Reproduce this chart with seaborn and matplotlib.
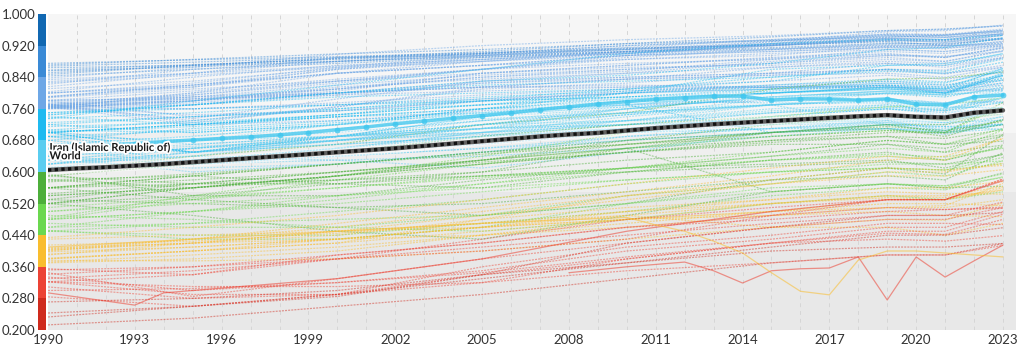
import numpy as np
import pandas as pd
import matplotlib
matplotlib.use("Agg")
import matplotlib.pyplot as plt
import matplotlib.patheffects as pe
import seaborn as sns

sns.set_theme(style="white")
plt.rcParams['font.family'] = ['Lato', 'DejaVu Sans']

# ---------------------------------------------------------------- data
KEY_YEARS = [1990, 1995, 2000, 2005, 2010, 2015, 2019, 2021, 2023]

# HDI in thousandths at KEY_YEARS, one row per country
very_high_start = [
    [875, 884, 892, 902, 914, 921, 930, 921, 938],
    [871, 885, 899, 910, 925, 933, 941, 946, 958],
    [864, 870, 880, 895, 905, 920, 932, 929, 939],
    [851, 870, 888, 905, 925, 942, 958, 962, 970],
    [847, 870, 887, 900, 920, 932, 945, 941, 955],
    [843, 860, 875, 890, 903, 912, 922, 920, 925],
    [838, 865, 898, 920, 935, 945, 958, 961, 970],
    [834, 850, 868, 885, 905, 920, 933, 934, 938],
    [829, 850, 880, 900, 920, 935, 948, 945, 959],
    [822, 860, 880, 895, 910, 922, 939, 935, 951],
    [816, 850, 890, 895, 910, 930, 945, 946, 959],
    [811, 830, 862, 890, 900, 930, 955, 958, 972],
    [803, 840, 870, 885, 900, 920, 935, 928, 946],
    [800, 815, 860, 880, 900, 920, 938, 940, 948],
    [799, 825, 865, 895, 915, 935, 948, 948, 962],
    [791, 820, 850, 870, 885, 900, 910, 905, 920],
    [790, 820, 860, 885, 900, 910, 918, 920, 922],
    [800, 820, 850, 870, 895, 910, 920, 918, 930],
    [790, 815, 850, 870, 895, 905, 915, 915, 919],
    [788, 810, 830, 860, 895, 925, 950, 948, 955],
    [781, 805, 835, 860, 875, 885, 898, 890, 915],
    [766, 795, 830, 850, 870, 890, 905, 900, 918],
    [770, 800, 850, 880, 905, 925, 943, 942, 949],
    [768, 780, 805, 850, 865, 870, 885, 880, 908],
    [775, 795, 825, 860, 885, 895, 918, 915, 931],
    [770, 790, 810, 850, 870, 888, 900, 890, 915],
    [760, 785, 810, 840, 855, 885, 910, 905, 924],
    [765, 790, 820, 845, 860, 875, 895, 890, 913],
    [765, 735, 785, 830, 850, 880, 895, 893, 905],
    [770, 725, 765, 810, 825, 850, 875, 865, 889],
    [772, 730, 765, 815, 835, 865, 880, 875, 895],
    [780, 740, 755, 780, 800, 820, 830, 820, 832],
    [765, 745, 755, 780, 805, 815, 825, 815, 824],
    [765, 775, 800, 830, 840, 850, 858, 848, 870],
    [763, 780, 810, 840, 860, 875, 890, 880, 906],
    [770, 780, 800, 825, 840, 850, 860, 850, 865],
    [780, 790, 800, 815, 820, 815, 815, 805, 811],
    [782, 785, 795, 805, 815, 815, 818, 810, 820],
    [773, 785, 800, 815, 835, 845, 850, 840, 865],
    [761, 770, 800, 815, 815, 830, 845, 835, 852],
    [767, 760, 775, 795, 810, 815, 820, 800, 845],
    [765, 720, 730, 755, 770, 780, 785, 775, 779],
    [768, 770, 795, 825, 835, 845, 860, 858, 889],
    [761, 780, 815, 835, 850, 865, 875, 870, 890],
    [762, 800, 830, 860, 890, 910, 925, 925, 937],
    [760, 760, 770, 785, 800, 810, 815, 805, 807],
    [858, 872, 885, 898, 910, 922, 935, 932, 946],
    [856, 866, 880, 892, 905, 915, 926, 924, 936],
    [868, 878, 890, 900, 912, 925, 938, 935, 950],
    [826, 845, 865, 880, 895, 905, 915, 912, 928],
]

high_start = [
    [744, 770, 800, 830, 845, 875, 910, 915, 940],
    [736, 780, 820, 860, 900, 925, 935, 935, 946],
    [750, 770, 800, 820, 830, 840, 860, 855, 886],
    [745, 770, 790, 800, 810, 830, 870, 875, 899],
    [700, 720, 745, 770, 800, 860, 870, 870, 900],
    [706, 730, 760, 785, 810, 840, 855, 850, 878],
    [700, 715, 740, 750, 780, 800, 815, 810, 862],
    [740, 720, 745, 780, 800, 815, 830, 825, 862],
    [720, 700, 720, 760, 785, 800, 810, 805, 833],
    [706, 700, 720, 760, 800, 810, 825, 820, 845],
    [700, 650, 680, 720, 760, 790, 805, 800, 844],
    [702, 670, 690, 740, 770, 800, 815, 810, 837],
    [646, 680, 720, 740, 760, 790, 805, 800, 819],
    [670, 690, 720, 750, 770, 800, 815, 800, 839],
    [668, 690, 720, 750, 770, 800, 815, 808, 833],
    [630, 660, 690, 730, 760, 790, 805, 795, 806],
    [600, 640, 670, 720, 750, 810, 835, 838, 853],
    [690, 650, 690, 740, 780, 775, 775, 765, 762],
    [660, 650, 680, 710, 745, 785, 800, 795, 810],
    [680, 650, 690, 720, 745, 770, 785, 775, 804],
    [690, 680, 700, 730, 750, 770, 780, 775, 787],
    [630, 660, 690, 720, 750, 770, 785, 775, 776],
    [620, 650, 680, 710, 730, 770, 800, 800, 798],
    [660, 680, 710, 735, 750, 770, 780, 760, 789],
    [610, 650, 690, 710, 730, 755, 765, 758, 786],
    [603, 630, 660, 690, 720, 750, 765, 755, 788],
    [620, 640, 680, 700, 720, 750, 770, 760, 794],
    [640, 660, 680, 700, 730, 760, 770, 755, 777],
    [650, 665, 680, 710, 760, 770, 720, 700, 709],
    [700, 720, 740, 760, 780, 790, 780, 735, 752],
    [620, 660, 690, 720, 730, 730, 740, 730, 754],
    [605, 630, 660, 700, 720, 735, 745, 735, 746],
    [680, 710, 730, 750, 770, 700, 720, 715, 721],
    [650, 670, 690, 710, 720, 730, 735, 725, 731],
    [602, 630, 650, 670, 700, 720, 735, 725, 756],
    [606, 630, 660, 690, 710, 740, 760, 755, 776],
    [660, 680, 690, 710, 720, 725, 730, 705, 720],
    [660, 620, 660, 700, 740, 770, 785, 770, 811],
    [670, 630, 650, 690, 730, 750, 760, 745, 789],
    [700, 650, 670, 690, 710, 740, 760, 750, 763],
    [608, 620, 640, 660, 680, 700, 710, 700, 720],
    [640, 660, 680, 695, 700, 710, 720, 715, 708],
    [670, 680, 690, 700, 710, 720, 725, 710, 722],
    [620, 650, 670, 690, 700, 710, 710, 695, 721],
    [630, 610, 620, 650, 690, 710, 725, 720, 740],
    [640, 620, 640, 660, 690, 710, 730, 725, 764],
    [640, 600, 620, 650, 680, 700, 710, 700, 720],
    [720, 740, 760, 780, 790, 810, 820, 815, 858],
    [700, 720, 740, 760, 770, 790, 800, 795, 848],
    [750, 760, 770, 780, 790, 800, 810, 800, 851],
    [612, 620, 630, 640, 660, 690, 710, 705, 733],
    [630, 640, 630, 610, 650, 700, 720, 705, 741],
    [735, 750, 770, 790, 805, 820, 835, 828, 855],
    [725, 740, 755, 770, 790, 805, 820, 812, 843],
    [715, 725, 745, 770, 785, 800, 812, 800, 826],
    [690, 705, 725, 745, 765, 785, 798, 790, 815],
]

medium_start = [
    [484, 540, 590, 640, 700, 740, 765, 770, 788],
    [530, 570, 600, 630, 670, 700, 715, 705, 728],
    [480, 530, 580, 620, 660, 690, 705, 700, 766],
    [560, 590, 620, 650, 680, 700, 720, 720, 754],
    [590, 620, 650, 690, 720, 740, 745, 730, 763],
    [590, 570, 570, 600, 660, 700, 720, 700, 731],
    [540, 560, 590, 620, 650, 680, 700, 700, 776],
    [560, 590, 620, 650, 670, 700, 710, 690, 733],
    [520, 560, 590, 630, 660, 680, 690, 670, 678],
    [520, 540, 570, 590, 610, 620, 630, 610, 645],
    [500, 530, 560, 590, 610, 640, 660, 650, 706],
    [480, 500, 540, 570, 600, 630, 640, 630, 662],
    [460, 500, 530, 570, 610, 650, 680, 670, 710],
    [560, 580, 600, 630, 660, 550, 570, 560, 564],
    [595, 540, 540, 580, 610, 640, 670, 660, 691],
    [580, 560, 590, 630, 680, 720, 740, 730, 747],
    [580, 590, 570, 560, 600, 630, 650, 630, 665],
    [520, 560, 590, 620, 650, 670, 670, 650, 668],
    [470, 460, 460, 490, 540, 570, 600, 590, 628],
    [450, 470, 500, 530, 570, 600, 620, 620, 628],
    [520, 490, 450, 430, 490, 550, 570, 560, 598],
    [530, 520, 510, 520, 550, 580, 590, 580, 649],
    [480, 500, 520, 550, 580, 600, 610, 605, 637],
    [500, 520, 540, 560, 580, 600, 610, 605, 621],
    [560, 570, 580, 600, 630, 650, 680, 670, 695],
    [540, 560, 580, 590, 600, 615, 625, 620, 644],
    [560, 530, 510, 490, 520, 580, 610, 595, 695],
    [490, 480, 460, 450, 480, 520, 540, 530, 550],
    [460, 470, 480, 490, 520, 550, 570, 565, 586],
    [450, 440, 440, 470, 500, 540, 560, 555, 588],
    [452, 430, 430, 460, 520, 560, 570, 565, 595],
    [575, 595, 620, 645, 670, 690, 705, 698, 720],
    [545, 570, 600, 625, 650, 675, 690, 685, 707],
    [510, 535, 560, 585, 610, 630, 645, 638, 660],
]

low_start = [
    [434, 460, 490, 530, 570, 610, 640, 630, 685],
    [400, 430, 470, 510, 550, 590, 630, 640, 685],
    [405, 430, 460, 500, 540, 580, 610, 605, 617],
    [380, 400, 420, 480, 540, 570, 590, 590, 606],
    [390, 420, 450, 490, 530, 570, 600, 600, 622],
    [402, 420, 440, 480, 510, 530, 550, 545, 544],
    [430, 440, 450, 460, 480, 500, 530, 530, 554],
    [382, 400, 430, 460, 500, 530, 560, 560, 576],
    [398, 410, 430, 460, 480, 490, 500, 490, 487],
    [404, 420, 430, 440, 460, 490, 510, 515, 571],
    [370, 380, 400, 440, 480, 520, 540, 535, 555],
    [392, 410, 430, 460, 490, 520, 540, 540, 563],
    [380, 400, 420, 450, 480, 500, 510, 510, 530],
    [372, 390, 410, 440, 470, 500, 520, 520, 515],
    [408, 420, 450, 470, 490, 460, 460, 440, 470],
    [376, 375, 380, 400, 430, 460, 480, 478, 522],
    [415, 425, 445, 470, 500, 520, 535, 530, 560],
    [341, 360, 390, 420, 460, 490, 510, 505, 511],
    [355, 340, 380, 430, 480, 510, 530, 530, 582],
    [352, 360, 380, 400, 430, 490, 530, 530, 582],
    [322, 340, 390, 420, 460, 480, 500, 505, 508],
    [243, 260, 285, 340, 420, 460, 490, 490, 497],
    [284, 260, 290, 340, 380, 420, 450, 450, 493],
    [322, 290, 290, 320, 380, 420, 430, 425, 439],
    [309, 280, 290, 360, 410, 440, 470, 470, 467],
    [213, 230, 260, 290, 330, 370, 390, 390, 419],
    [233, 260, 290, 330, 370, 400, 410, 410, 419],
    [271, 280, 300, 340, 370, 410, 440, 440, 459],
    [334, 300, 320, 350, 400, 430, 460, 460, 500],
    [330, 350, 380, 410, 440, 470, 490, 490, 524],
    [345, 285, 330, 380, 420, 460, 480, 480, 510],
    [322, 310, 310, 320, 350, 370, 390, 390, 414],
    [300, 305, 320, 345, 385, 420, 445, 442, 480],
]

# countries with irregular paths, yearly detail
conflict_a_years = [1990, 1993, 1994, 1995, 2000, 2005, 2010, 2015, 2019, 2021, 2023]
conflict_a_vals = [294, 263, 294, 300, 330, 380, 450, 500, 530, 530, 578]
conflict_b_years = [2008, 2010, 2012, 2013, 2014, 2015, 2016, 2017, 2018,
                    2019, 2020, 2021, 2022, 2023]
conflict_b_vals = [345, 360, 372, 350, 319, 350, 355, 357, 385,
                   276, 385, 334, 375, 415]
conflict_c_years = [1990, 1995, 2000, 2005, 2010, 2011, 2012, 2013, 2014,
                    2015, 2016, 2017, 2018, 2019, 2020, 2021, 2022, 2023]
conflict_c_vals = [410, 430, 450, 470, 485, 466, 450, 425, 395,
                   345, 298, 289, 377, 400, 400, 395, 390, 385]

ALL_YEARS = list(range(1990, 2024))
world_hdi = [0.605, 0.609, 0.612, 0.616, 0.620, 0.625, 0.630, 0.635, 0.640, 0.645,
             0.650, 0.655, 0.660, 0.666, 0.672, 0.678, 0.684, 0.690, 0.695, 0.699,
             0.705, 0.711, 0.716, 0.721, 0.725, 0.729, 0.733, 0.737, 0.741, 0.744,
             0.740, 0.738, 0.750, 0.756]
iran_hdi = [0.655, 0.661, 0.667, 0.672, 0.677, 0.681, 0.685, 0.689, 0.694, 0.700,
            0.707, 0.714, 0.722, 0.729, 0.736, 0.743, 0.750, 0.758, 0.765, 0.772,
            0.778, 0.784, 0.788, 0.792, 0.792, 0.782, 0.785, 0.785, 0.782, 0.785,
            0.772, 0.770, 0.790, 0.795]

Y_TICKS = [0.200, 0.280, 0.360, 0.440, 0.520, 0.600, 0.680, 0.760, 0.840, 0.920, 1.000]
X_TICKS = list(range(1990, 2024, 3))

# colour scale, one colour per 0.08 band from 0.2 upward
BAND_COLORS = ['#cf2a1d', '#ec4335', '#f9bd2e', '#6bd84f', '#4daf3b',
               '#5acdf0', '#1fbaf0', '#6ea7e6', '#3a8ad6', '#1168b2']


def band_color(v):
    idx = int((v - 0.2) // 0.08)
    return BAND_COLORS[max(0, min(idx, len(BAND_COLORS) - 1))]


# ---------------------------------------------------------------- frames
records = []
sid = 0
for rows in (very_high_start, high_start, medium_start, low_start):
    for row in rows:
        for yr, v in zip(KEY_YEARS, row):
            records.append((f"c{sid}", yr, v / 1000))
        sid += 1
countries = pd.DataFrame(records, columns=["series", "year", "hdi"])

irregular = []
for name, yrs, vals in (("a", conflict_a_years, conflict_a_vals),
                        ("b", conflict_b_years, conflict_b_vals),
                        ("c", conflict_c_years, conflict_c_vals)):
    for yr, v in zip(yrs, vals):
        irregular.append((name, yr, v / 1000))
irregular = pd.DataFrame(irregular, columns=["series", "year", "hdi"])


def palette_for(df):
    first = df.sort_values("year").groupby("series")["hdi"].first()
    return {k: band_color(v) for k, v in first.items()}


world = pd.DataFrame({"year": ALL_YEARS, "hdi": world_hdi})
iran = pd.DataFrame({"year": ALL_YEARS, "hdi": iran_hdi})

# ---------------------------------------------------------------- figure
fig = plt.figure(figsize=(10.24, 3.5), dpi=100)
ax = fig.add_axes([48 / 1024, 20 / 350, 968 / 1024, 316 / 350])
ax.set_xlim(1990, 2023.45)
ax.set_ylim(0.2, 1.0)

# background shading by development tier
ax.axhspan(0.70, 1.00, color='#f6f6f6', zorder=0, lw=0)
ax.axhspan(0.55, 0.70, color='#efefef', zorder=0, lw=0)
ax.axhspan(0.20, 0.55, color='#e8e8e8', zorder=0, lw=0)

for yr in ALL_YEARS[1:]:
    ax.axvline(yr, color='#d6d6d6', lw=0.7, ls=(0, (4, 4)), zorder=0.5)

sns.lineplot(data=countries, x="year", y="hdi", hue="series",
             palette=palette_for(countries), estimator=None, legend=False,
             linewidth=0.9, alpha=0.45, linestyle=(0, (1.6, 0.9)), ax=ax)
sns.lineplot(data=irregular, x="year", y="hdi", hue="series",
             palette=palette_for(irregular), estimator=None, legend=False,
             linewidth=0.9, alpha=0.55, ax=ax)

# Iran, highlighted
sns.lineplot(data=iran, x="year", y="hdi", color='white', linewidth=5.5,
             alpha=0.35, ax=ax)
sns.lineplot(data=iran, x="year", y="hdi", color='#3cc6ee', linewidth=2.5,
             alpha=0.75, marker='o', markersize=4.2, markeredgewidth=0, ax=ax)

# World reference line
sns.lineplot(data=world, x="year", y="hdi", color='white', linewidth=7,
             alpha=0.5, ax=ax)
sns.lineplot(data=world, x="year", y="hdi", color='#606060', linewidth=3.2, ax=ax)
sns.lineplot(data=world, x="year", y="hdi", color='#111111', linewidth=2.4,
             linestyle=(0, (1, 1)), ax=ax)

halo = [pe.withStroke(linewidth=2.6, foreground='white')]
ax.text(1990.05, 0.662, "Iran (Islamic Republic of)", fontsize=8, fontweight='bold',
        color='#1a1a1a', va='center', ha='left', path_effects=halo, zorder=10)
ax.text(1990.05, 0.641, "World", fontsize=8, fontweight='bold',
        color='#1a1a1a', va='center', ha='left', path_effects=halo, zorder=10)

ax.set_xticks(X_TICKS)
ax.set_xticklabels([str(y) for y in X_TICKS])
ax.set_yticks(Y_TICKS)
ax.set_yticklabels([f"{v:.3f}" for v in Y_TICKS])
ax.tick_params(axis='y', length=0, pad=9, labelsize=9.5, labelcolor='#333333')
ax.tick_params(axis='x', length=0, pad=3, labelsize=9.5, labelcolor='#333333')
ax.set_xlabel("")
ax.set_ylabel("")
for s in ax.spines.values():
    s.set_visible(False)

# colour scale strip beside the value axis
cax = fig.add_axes([38 / 1024, 20 / 350, 8 / 1024, 316 / 350])
band_bottoms = Y_TICKS[:-1]
cax.bar([0] * len(band_bottoms), [0.08] * len(band_bottoms), bottom=band_bottoms,
        width=1.0, color=BAND_COLORS, linewidth=0)
cax.set_xlim(-0.5, 0.5)
cax.set_ylim(0.2, 1.0)
cax.axis('off')

fig.savefig("out.png", dpi=100, facecolor='white')
